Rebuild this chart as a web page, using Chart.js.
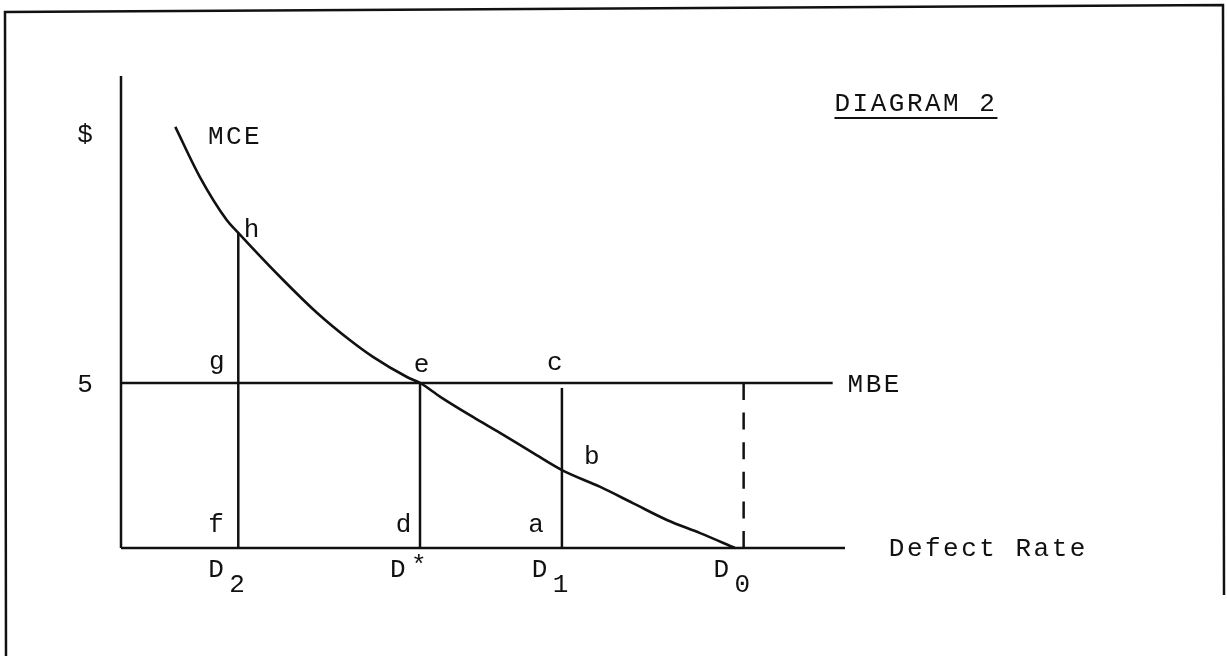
<!DOCTYPE html>
<html>
<head>
<meta charset="utf-8">
<script src="https://cdn.jsdelivr.net/npm/chart.js@4.4.1/dist/chart.umd.min.js"></script>
<style>
  html, body { margin: 0; padding: 0; background: #fff; }
  #wrap { width: 1227px; height: 656px; }
</style>
</head>
<body>
<div id="wrap"><canvas id="diag"></canvas></div>
<script>
// MCE curve (defect rate, $)
const mceX = [0.75, 1.09, 1.46, 1.62, 2.24, 2.71, 3.16, 3.48, 3.95, 4.13, 4.41, 4.86, 5.24, 5.69, 6.09, 6.62, 7.07, 7.54, 8.0, 8.48];
const mceY = [12.76, 11.24, 9.94, 9.55, 8.12, 7.12, 6.30, 5.79, 5.18, 5.0, 4.58, 3.97, 3.48, 2.88, 2.36, 1.85, 1.36, 0.85, 0.45, 0];
// MBE flat line
const mbeValue = 5;
const mbeEnd = 9.83;
// defect rates D2, D*, D1, D0 and height of the drop lines
const dNames = ['D2', 'D*', 'D1', 'D0'];
const dX = [1.62, 4.13, 6.09, 8.6];
const dTop = [9.55, 5.0, 4.85, 5.0];
const xMax = 10;
const yMax = 14.3;

// text notes (data coords)
const notes = [
  ['$', -0.48, 12.52], ['5', -0.48, 4.94], ['MCE', 1.575, 12.45],
  ['h', 1.82, 9.64], ['g', 1.34, 5.64], ['e', 4.17, 5.55], ['c', 6.01, 5.6],
  ['b', 6.52, 2.76], ['a', 5.75, 0.70], ['d', 3.92, 0.70], ['f', 1.33, 0.70],
  ['MBE', 10.41, 4.94], ['Defect Rate', 11.98, -0.03], ['DIAGRAM 2', 10.98, 13.45]
];

const ink = '#111';
const ds = [];
// axes
ds.push({ data: [{x: 0, y: 0}, {x: xMax, y: 0}], borderWidth: 2.5 });
ds.push({ data: [{x: 0, y: 0}, {x: 0, y: yMax}], borderWidth: 2.5 });
// MBE
ds.push({ data: [{x: 0, y: mbeValue}, {x: mbeEnd, y: mbeValue}], borderWidth: 2.5 });
// MCE
ds.push({ data: mceX.map((x, i) => ({x: x, y: mceY[i]})), borderWidth: 2.6, cubicInterpolationMode: 'monotone' });
// drop lines
for (let i = 0; i < dX.length; i++) {
  ds.push({
    data: [{x: dX[i], y: 0}, {x: dX[i], y: dTop[i]}],
    borderWidth: 2.5,
    borderDash: i == 3 ? [17, 12.6] : []
  });
}
ds.forEach(d => { d.borderColor = ink; d.pointRadius = 0; d.showLine = true; d.clip = false; });

const paperPlugin = {
  id: 'paper',
  beforeDraw(chart) {
    const c = chart.ctx;
    c.save();
    c.fillStyle = '#fff';
    c.fillRect(0, 0, chart.width, chart.height);
    c.strokeStyle = ink;
    c.lineWidth = 2.5;
    c.beginPath();
    c.moveTo(6, 656); c.lineTo(5, 12); c.lineTo(1223, 5); c.lineTo(1224, 595);
    c.stroke();
    c.restore();
  }
};

const textPlugin = {
  id: 'texts',
  afterDraw(chart) {
    const c = chart.ctx, sx = chart.scales.x, sy = chart.scales.y;
    c.save();
    c.fillStyle = ink;
    c.font = '26px "Liberation Mono", monospace';
    c.letterSpacing = '2.5px';
    c.textAlign = 'center';
    c.textBaseline = 'middle';
    notes.forEach(n => {
      c.fillText(n[0], sx.getPixelForValue(n[1]), sy.getPixelForValue(n[2]));
    });
    // underline for title
    const t = notes[notes.length - 1];
    const tx = sx.getPixelForValue(t[1]), ty = sy.getPixelForValue(t[2]);
    const w = c.measureText(t[0]).width;
    c.lineWidth = 2;
    c.strokeStyle = ink;
    c.beginPath();
    c.moveTo(tx - w / 2, ty + 14); c.lineTo(tx + w / 2, ty + 14);
    c.stroke();
    // D labels under the x axis, with subscripts
    dNames.forEach((nm, i) => {
      const px = sx.getPixelForValue(dX[i]);
      const base = sy.getPixelForValue(0);
      c.fillText('D', px - 21, base + 22);
      const sub = nm.slice(1);
      if (sub == '*') c.fillText('*', px, base + 18);
      else c.fillText(sub, px, base + 37);
    });
    c.restore();
  }
};

window.onload = function() {
  const ctx = document.getElementById('diag').getContext('2d');
  window.diag = new Chart(ctx, {
    type: 'scatter',
    data: { datasets: ds },
    options: {
      responsive: true,
      maintainAspectRatio: false,
      animation: false,
      layout: { padding: { left: 121, right: 382, top: 76, bottom: 108 } },
      plugins: { legend: { display: false }, tooltip: { enabled: false } },
      scales: {
        x: { type: 'linear', min: 0, max: xMax, display: false },
        y: { type: 'linear', min: 0, max: yMax, display: false }
      }
    },
    plugins: [paperPlugin, textPlugin]
  });
};
</script>
</body>
</html>
